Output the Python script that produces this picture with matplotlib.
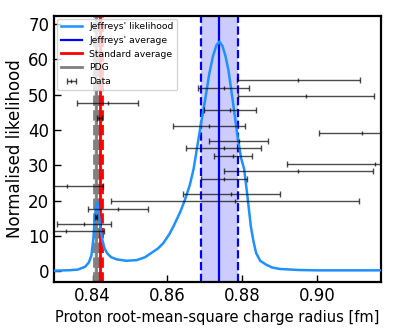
import numpy as np
import matplotlib
matplotlib.use("Agg")
import matplotlib.pyplot as plt

# Jeffreys' likelihood curve
lik_x = [0.8297, 0.8340, 0.8360, 0.8380, 0.8390, 0.8397, 0.8402, 0.8406, 0.8410,
         0.8413, 0.8416, 0.8420, 0.8426, 0.8432, 0.8440, 0.8450, 0.8465, 0.8490,
         0.8518, 0.8540, 0.8554, 0.8575, 0.8589, 0.8605, 0.8616, 0.8635, 0.8647,
         0.8660, 0.8670, 0.8680, 0.8690, 0.8700, 0.8712, 0.8722, 0.8731, 0.8739,
         0.8747, 0.8755, 0.8763, 0.8775, 0.8787, 0.8797, 0.8805, 0.8813, 0.8823,
         0.8830, 0.8837, 0.8848, 0.8864, 0.8880, 0.8900, 0.8950, 0.9000, 0.9171]
lik_y = [0.2, 0.35, 0.5, 1.3, 2.5, 4.5, 9.0, 15.0, 19.0,
         19.5, 17.0, 13.0, 9.0, 6.5, 5.0, 4.0, 3.4, 3.0,
         3.2, 4.0, 5.0, 6.5, 8.0, 10.5, 12.7, 17.0, 20.3,
         24.5, 29.0, 35.5, 42.0, 48.0, 56.0, 61.0, 64.0, 65.0,
         63.8, 61.0, 57.0, 48.0, 38.5, 32.0, 29.0, 22.0, 12.7,
         8.5, 5.2, 3.0, 1.9, 1.1, 0.7, 0.4, 0.3, 0.3]

# measurements: centre, error, plotting height
data_r = [0.8440, 0.8418, 0.8950, 0.8750, 0.8970, 0.8768, 0.8711, 0.9120, 0.8790,
          0.8750, 0.8775, 0.9155, 0.8950, 0.8751, 0.8771, 0.8780, 0.8333, 0.8469,
          0.8409, 0.8377, 0.8329]
data_err = [0.0081, 0.0007, 0.0165, 0.0069, 0.0181, 0.0069, 0.0095, 0.0114, 0.0078,
            0.0100, 0.0051, 0.0235, 0.0198, 0.0061, 0.0130, 0.0331, 0.0096, 0.0080,
            0.0003, 0.0071, 0.0101]
data_h = [47.7, 43.4, 54.1, 51.9, 49.7, 45.6, 41.2, 39.1, 36.9,
          34.9, 32.7, 30.5, 28.4, 26.2, 21.9, 19.8, 24.1, 17.7,
          15.5, 13.4, 11.3]

jeff_avg, jeff_err = 0.8739, 0.0049
std_avg, std_err = 0.8420, 0.0004
pdg_avg, pdg_err = 0.8409, 0.0004

fig = plt.figure(figsize=(3.97, 3.31), dpi=100)
ax = fig.add_axes([0.136, 0.148, 0.824, 0.804])

ax.plot(lik_x, lik_y, color="dodgerblue", lw=1.8, label="Jeffreys' likelihood", zorder=3)

ax.axvspan(jeff_avg - jeff_err, jeff_avg + jeff_err, color="blue", alpha=0.2, lw=0)
ax.axvline(jeff_avg, color="blue", lw=1.6, label="Jeffreys' average")
ax.axvline(jeff_avg - jeff_err, color="blue", lw=1.6, ls="--")
ax.axvline(jeff_avg + jeff_err, color="blue", lw=1.6, ls="--")

ax.axvspan(std_avg - std_err, std_avg + std_err, color="red", alpha=0.2, lw=0)
ax.axvline(std_avg, color="red", lw=2, label="Standard average")
ax.axvline(std_avg - std_err, color="red", lw=2, ls="--")
ax.axvline(std_avg + std_err, color="red", lw=2, ls="--")

ax.axvspan(pdg_avg - pdg_err, pdg_avg + pdg_err, color="gray", alpha=0.2, lw=0)
ax.axvline(pdg_avg, color="gray", lw=2, label="PDG")
ax.axvline(pdg_avg - pdg_err, color="gray", lw=2, ls="--")
ax.axvline(pdg_avg + pdg_err, color="gray", lw=2, ls="--")

ax.errorbar(data_r, data_h, xerr=data_err, fmt="|", color="k", alpha=0.7,
            ms=3, elinewidth=1, capsize=2, label="Data", zorder=4)

ax.set_xlim(0.8297, 0.9171)
ax.set_ylim(-3, 72.3)
ax.set_xticks([0.84, 0.86, 0.88, 0.90])
ax.set_xticklabels(["0.84", "0.86", "0.88", "0.90"])
ax.set_yticks(range(0, 71, 10))
ax.tick_params(direction="in", length=5, width=1, labelsize=12)
for s in ax.spines.values():
    s.set_linewidth(1.6)

ax.set_xlabel("Proton root-mean-square charge radius [fm]", fontsize=10.5)
ax.set_ylabel("Normalised likelihood", fontsize=12, labelpad=3)
ax.legend(loc="upper left", fontsize=6.7, handlelength=2.3, borderaxespad=0.3)

fig.savefig("out.png", dpi=100)
